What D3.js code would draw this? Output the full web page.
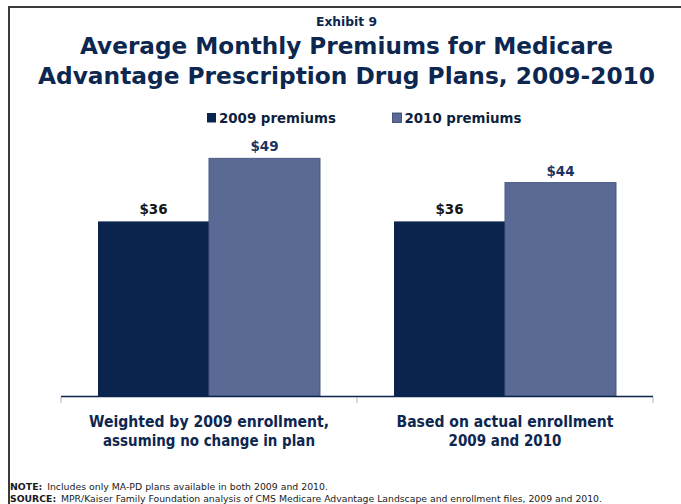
<!DOCTYPE html>
<html>
<head>
<meta charset="utf-8">
<script src="https://cdn.jsdelivr.net/npm/d3@7"></script>
<style>
  html, body { margin: 0; padding: 0; background: #fff; }
  svg { display: block; }
  text { font-family: "DejaVu Sans", Verdana, sans-serif; }
</style>
</head>
<body>
<svg id="chart" width="681" height="504"></svg>
<script>
// Chart data
const categories = [
  ["Weighted by 2009 enrollment,", "assuming no change in plan"],
  ["Based on actual enrollment", "2009 and 2010"]
];
const seriesNames = ["2009 premiums", "2010 premiums"];
const premiums2009 = [36, 36];
const premiums2010 = [49, 44];
const valueLabels2009 = ["$36", "$36"];
const valueLabels2010 = ["$49", "$44"];

const colors = ["#0B244E", "#5A6A94"];
const labelColors = ["#161616", "#1C3461"];
const navy = "#0D2750";

const svg = d3.select("#chart");

// Squeeze a text element horizontally to a given width
function fit(sel, w) {
  sel.attr("textLength", w).attr("lengthAdjust", "spacingAndGlyphs");
  return sel;
}

// Frame lines (top and left)
svg.append("line").attr("x1", 8).attr("x2", 681).attr("y1", 7).attr("y2", 7)
  .attr("stroke", "#3a3a3a").attr("stroke-width", 2);
svg.append("line").attr("x1", 9).attr("x2", 9).attr("y1", 6).attr("y2", 504)
  .attr("stroke", "#3a3a3a").attr("stroke-width", 2);

// Headings
fit(svg.append("text").attr("x", 346.5).attr("y", 25.5).attr("text-anchor", "middle")
  .attr("font-size", 12.5).attr("font-weight", "bold").attr("fill", navy)
  .text("Exhibit 9"), 61);
fit(svg.append("text").attr("x", 346.5).attr("y", 54).attr("text-anchor", "middle")
  .attr("font-size", 23).attr("font-weight", "bold").attr("fill", navy)
  .text("Average Monthly Premiums for Medicare"), 533);
fit(svg.append("text").attr("x", 346.5).attr("y", 84).attr("text-anchor", "middle")
  .attr("font-size", 23).attr("font-weight", "bold").attr("fill", navy)
  .text("Advantage Prescription Drug Plans, 2009-2010"), 617);

// Legend
const legendX = [207, 392.5];
const legendW = [117, 117];
seriesNames.forEach((name, i) => {
  svg.append("rect").attr("x", legendX[i]).attr("y", 113).attr("width", 9).attr("height", 9.5)
    .attr("fill", colors[i]).attr("stroke", i ? "#2f3f66" : "none").attr("stroke-width", 0.8);
  fit(svg.append("text").attr("x", legendX[i] + 12).attr("y", 123.3)
    .attr("font-size", 13.5).attr("font-weight", "bold").attr("fill", "#0E1F40")
    .text(name), legendW[i]);
});

// Scales
const x0 = d3.scaleBand().domain(d3.range(categories.length)).range([61, 653]).paddingInner(0).paddingOuter(0);
const x1 = d3.scaleBand().domain([0, 1]).range([37, x0.bandwidth() - 37]);
const y = d3.scaleLinear().domain([0, 60]).range([396, 105]);

const groups = svg.append("g").selectAll("g")
  .data(categories.map((c, i) => ({ i, vals: [premiums2009[i], premiums2010[i]],
    labels: [valueLabels2009[i], valueLabels2010[i]] })))
  .join("g")
  .attr("transform", d => `translate(${x0(d.i)},0)`);

groups.selectAll("rect")
  .data(d => d.vals.map((v, s) => ({ v, s })))
  .join("rect")
  .attr("x", d => x1(d.s))
  .attr("y", d => y(d.v))
  .attr("width", x1.bandwidth())
  .attr("height", d => y(0) - y(d.v))
  .attr("fill", d => colors[d.s])
  .attr("stroke", d => d.s ? "#4a5a84" : "none")
  .attr("stroke-width", 1);

groups.selectAll("text.val")
  .data(d => d.vals.map((v, s) => ({ v, s, label: d.labels[s] })))
  .join("text")
  .attr("class", "val")
  .attr("x", d => x1(d.s) + x1.bandwidth() / 2)
  .attr("y", d => y(d.v) - 7)
  .attr("text-anchor", "middle")
  .attr("font-size", 13.5)
  .attr("font-weight", "bold")
  .attr("fill", d => labelColors[d.s])
  .text(d => d.label);

// Category axis
const axisG = svg.append("g").attr("transform", "translate(0,396)");
axisG.append("line").attr("x1", 61).attr("x2", 653).attr("y1", 0.5).attr("y2", 0.5)
  .attr("stroke", "#0B244E").attr("stroke-width", 1.5);
[61, 357, 653].forEach(t => {
  axisG.append("line").attr("x1", t).attr("x2", t).attr("y1", 1).attr("y2", 7)
    .attr("stroke", "#aab0bc").attr("stroke-width", 1);
});

const catW = [[240, 212], [217, 113]];
categories.forEach((lines, i) => {
  const cx = x0(i) + x0.bandwidth() / 2;
  lines.forEach((ln, j) => {
    fit(svg.append("text").attr("x", cx).attr("y", 426.5 + j * 19.5)
      .attr("text-anchor", "middle").attr("font-size", 15.5).attr("font-weight", "bold")
      .attr("fill", navy).text(ln), catW[i][j]);
  });
});

// Footnotes
const note = svg.append("text").attr("x", 10).attr("y", 490).attr("font-size", 9.5).attr("fill", "#1a1a1a");
note.append("tspan").attr("font-weight", "bold").text("NOTE:");
note.append("tspan").attr("dx", 5).text("Includes only MA-PD plans available in both 2009 and 2010.");
fit(note, 318);

const src = svg.append("text").attr("x", 10).attr("y", 502).attr("font-size", 9.5).attr("fill", "#1a1a1a");
src.append("tspan").attr("font-weight", "bold").text("SOURCE:");
src.append("tspan").attr("dx", 5).text("MPR/Kaiser Family Foundation analysis of CMS Medicare Advantage Landscape and enrollment files, 2009 and 2010.");
fit(src, 592);
</script>
</body>
</html>
